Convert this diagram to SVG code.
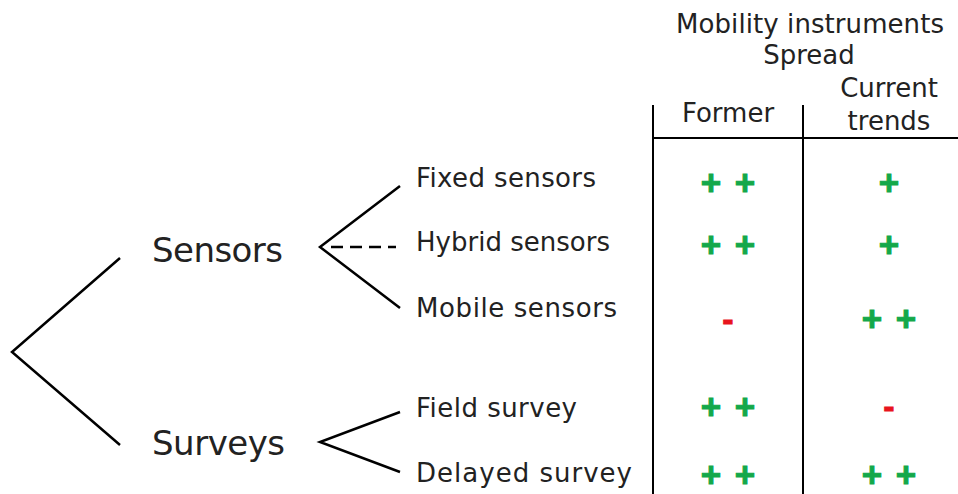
<svg xmlns="http://www.w3.org/2000/svg" width="958" height="494" viewBox="0 0 958 494">
<style>
.t{font-family:"DejaVu Sans","Liberation Sans",sans-serif;fill:#222}
.big{font-size:34px}
.sub{font-size:26px}
.hd{font-size:26px}
.ln{stroke:#000;stroke-width:2.5;fill:none}
.tb{stroke:#000;stroke-width:2;fill:none}
.p{font-family:"Liberation Sans",Arial,sans-serif;font-weight:bold;font-size:35px;fill:#14a84a;stroke:#14a84a;stroke-width:1;text-anchor:middle}
.m{font-family:"Liberation Sans",Arial,sans-serif;font-weight:bold;font-size:34px;fill:#e8141c;stroke:#e8141c;stroke-width:0.8;text-anchor:middle}
</style>
<rect width="958" height="494" fill="#fff"/>
<g id="connectors">
<polyline class="ln" points="120,258 12,352 120,445"/>
<polyline class="ln" points="400,186 320,247 400,308"/>
<line class="ln" x1="331" y1="247" x2="396" y2="247" stroke-dasharray="12,7"/>
<polyline class="ln" points="400,412 320,442 400,472"/>
</g>
<g id="table">
<line class="tb" x1="653" y1="105" x2="653" y2="494"/>
<line class="tb" x1="803" y1="105" x2="803" y2="494"/>
<line class="tb" x1="653" y1="138" x2="958" y2="138"/>
<text class="t hd" x="810" y="33" text-anchor="middle" textLength="268">Mobility instruments</text>
<text class="t hd" x="809" y="64" text-anchor="middle">Spread</text>
<text class="t hd" x="728" y="122" text-anchor="middle">Former</text>
<text class="t hd" x="889" y="97" text-anchor="middle">Current</text>
<text class="t hd" x="889" y="130" text-anchor="middle">trends</text>
</g>
<g id="sensors"><text class="t big" x="152" y="262" textLength="131">Sensors</text></g>
<g id="surveys"><text class="t big" x="152" y="455" textLength="133">Surveys</text></g>
<g id="fixed"><text class="t sub" x="416" y="187" textLength="180">Fixed sensors</text>
<text class="p" x="728" y="195" word-spacing="4">+ +</text><text class="p" x="889" y="195">+</text></g>
<g id="hybrid"><text class="t sub" x="416" y="251" textLength="194">Hybrid sensors</text>
<text class="p" x="728" y="257" word-spacing="4">+ +</text><text class="p" x="889" y="257">+</text></g>
<g id="mobile"><text class="t sub" x="416" y="317" textLength="201">Mobile sensors</text>
<text class="m" x="728" y="331">-</text><text class="p" x="889" y="331" word-spacing="4">+ +</text></g>
<g id="field"><text class="t sub" x="416" y="417" textLength="161">Field survey</text>
<text class="p" x="728" y="419" word-spacing="4">+ +</text><text class="m" x="889" y="418">-</text></g>
<g id="delayed"><text class="t sub" x="416" y="482" textLength="216">Delayed survey</text>
<text class="p" x="728" y="487" word-spacing="4">+ +</text><text class="p" x="889" y="487" word-spacing="4">+ +</text></g>
</svg>
